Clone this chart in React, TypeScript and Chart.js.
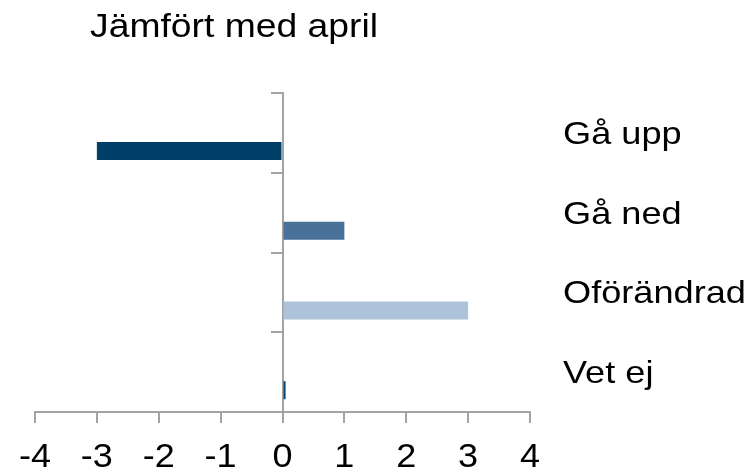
import React, { useEffect, useRef } from "react";
import { Chart, registerables } from "chart.js";

Chart.register(...registerables);

const categories = ["Gå upp", "Gå ned", "Oförändrad", "Vet ej"];
const otherSeries: (number | null)[] = [null, null, null, null];
const aprilValues = [-3, 1, 3, 0.05];
const barColors = ["#003f68", "#4a7199", "#adc3d9", "#0a4a78"];
const xTicks = [-4, -3, -2, -1, 0, 1, 2, 3, 4];
const titleText = "Jämfört med april";

const FONT = "'Liberation Sans', Arial, sans-serif";
const AXIS_GRAY = "#a3a3a3";

function drawStretched(
  ctx: CanvasRenderingContext2D,
  text: string,
  x: number,
  y: number,
  align: CanvasTextAlign,
  size: number,
  stretch: number
) {
  ctx.save();
  ctx.font = `${size}px ${FONT}`;
  ctx.translate(x, y);
  ctx.scale(stretch, 1);
  ctx.textAlign = align;
  ctx.fillText(text, 0, 0);
  ctx.restore();
}

export default function App() {
  const ref = useRef<HTMLCanvasElement | null>(null);

  useEffect(() => {
    if (!ref.current) return;
    const textPlugin = {
      id: "stretchedText",
      afterDraw(chart: any) {
        const ctx: CanvasRenderingContext2D = chart.ctx;
        const xs = chart.scales.x;
        const ys = chart.scales.y;
        const area = chart.chartArea;
        ctx.save();
        ctx.fillStyle = "#000";
        ctx.textBaseline = "alphabetic";
        // title
        drawStretched(ctx, titleText, 90, 37, "left", 33, 1.13);
        // category labels on the right
        categories.forEach((c, i) => {
          drawStretched(ctx, c, area.right + 33, ys.getPixelForValue(i) + 11, "left", 32, 1.13);
        });
        // x tick labels
        xTicks.forEach((v) => {
          drawStretched(ctx, String(v), xs.getPixelForValue(v), area.bottom + 55, "center", 34, 1.06);
        });
        ctx.restore();
      },
    };
    const chart = new Chart(ref.current, {
      type: "bar",
      data: {
        labels: categories,
        datasets: [
          {
            label: "",
            data: otherSeries,
            backgroundColor: "#7f7f7f",
            categoryPercentage: 0.906,
            barPercentage: 0.5,
          },
          {
            label: titleText,
            data: aprilValues,
            backgroundColor: barColors,
            categoryPercentage: 0.906,
            barPercentage: 0.5,
          },
        ],
      },
      options: {
        indexAxis: "y",
        animation: false,
        responsive: true,
        maintainAspectRatio: false,
        layout: { padding: { left: 35, top: 93, right: 225, bottom: 0 } },
        plugins: {
          legend: { display: false },
          tooltip: { enabled: false },
          title: { display: false },
        },
        scales: {
          x: {
            type: "linear",
            position: "bottom",
            min: xTicks[0],
            max: xTicks[xTicks.length - 1],
            afterBuildTicks(scale: any) {
              scale.ticks = xTicks.map((v) => ({ value: v }));
            },
            afterFit(scale: any) {
              scale.height = 57;
            },
            grid: {
              drawOnChartArea: false,
              drawTicks: true,
              tickLength: 11,
              color: AXIS_GRAY,
              lineWidth: 2,
            },
            border: { display: true, color: AXIS_GRAY, width: 2 },
            ticks: { display: false },
          },
          y: {
            type: "category",
            position: { x: 0 } as any,
            offset: true,
            grid: {
              offset: true,
              drawOnChartArea: false,
              drawTicks: true,
              tickLength: 11,
              color: AXIS_GRAY,
              lineWidth: 2,
            },
            border: { display: true, color: AXIS_GRAY, width: 2 },
            ticks: { display: false },
          },
        },
      },
      plugins: [textPlugin],
    });
    return () => chart.destroy();
  }, []);

  return (
    <div style={{ position: "fixed", left: 0, top: 0, width: 755, height: 469 }}>
      <canvas ref={ref} />
    </div>
  );
}
